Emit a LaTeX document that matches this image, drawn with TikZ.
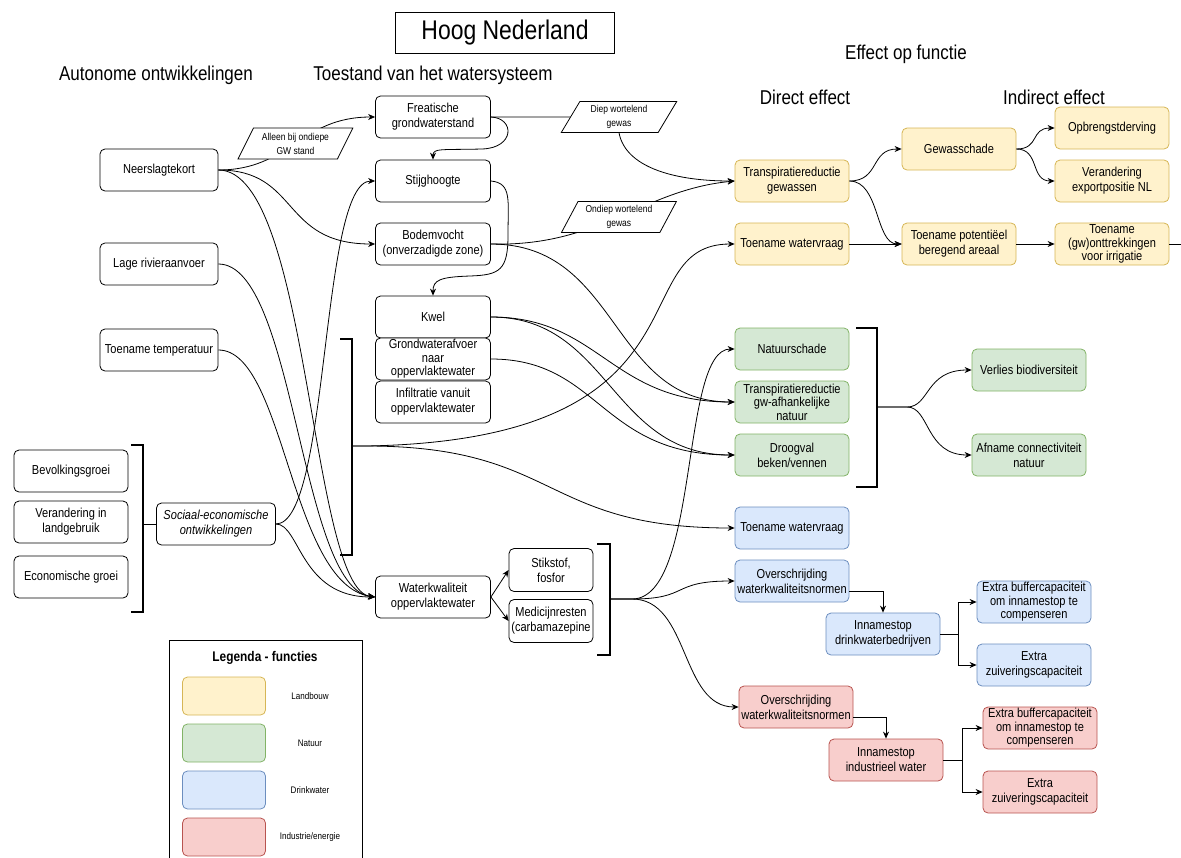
\documentclass[tikz,border=0pt]{standalone}
\usepackage{fontspec}
\setmainfont{Liberation Sans}[FakeStretch=0.85]
\usetikzlibrary{arrows.meta,shapes.geometric}
\definecolor{lbfill}{HTML}{FFF2CC}
\definecolor{lbdraw}{HTML}{D6B656}
\definecolor{ntfill}{HTML}{D5E8D4}
\definecolor{ntdraw}{HTML}{82B366}
\definecolor{dwfill}{HTML}{DAE8FC}
\definecolor{dwdraw}{HTML}{6C8EBF}
\definecolor{iefill}{HTML}{F8CECC}
\definecolor{iedraw}{HTML}{B85450}

\begin{document}
\begin{tikzpicture}[x=1pt,y=-1pt,
    box/.style={draw, fill=white, rounded corners=5pt, line width=0.8pt,
      minimum width=114pt, minimum height=42pt, align=center, inner sep=1pt,
      font=\fontsize{13}{15}\selectfont},
    three/.style={font=\fontsize{13}{13.5}\selectfont, inner sep=0pt},
    landbouw/.style={box, fill=lbfill, draw=lbdraw},
    natuur/.style={box, fill=ntfill, draw=ntdraw},
    drinkwater/.style={box, fill=dwfill, draw=dwdraw},
    industrie/.style={box, fill=iefill, draw=iedraw},
    pgram/.style={draw, fill=white, trapezium, trapezium left angle=60,
      trapezium right angle=120, trapezium stretches=true, minimum width=116pt,
      minimum height=31pt, align=center, inner sep=0pt,
      font=\fontsize{10}{14}\selectfont},
    header/.style={font=\fontsize{20}{24}\selectfont},
    arr/.style={line width=0.8pt, -{Stealth[length=7pt,width=6pt]}},
    bracket/.style={line width=1.8pt}]
  \useasboundingbox (0,0) rectangle (1181,857);
  \clip (0,0) rectangle (1181,857);

  \node[draw, line width=0.8pt, minimum width=219pt, minimum height=41pt,
    font=\fontsize{27}{30}\selectfont] (title) at (505,33) {Hoog Nederland};
  \node[header] (hAut) at (156,75) {Autonome ontwikkelingen};
  \node[header] (hToe) at (433,75) {Toestand van het watersysteem};
  \node[header] (hEff) at (906,54) {Effect op functie};
  \node[header] (hDir) at (805,97) {Direct effect};
  \node[header] (hInd) at (1054,97) {Indirect effect};

  \node[box, minimum width=118pt] (nsl) at (159,170) {Neerslagtekort};
  \node[box, minimum width=118pt] (lra) at (159,264) {Lage rivieraanvoer};
  \node[box, minimum width=118pt] (ttemp) at (159,350) {Toename temperatuur};
  \node[box] (bev) at (71,471) {Bevolkingsgroei};
  \node[box] (lgb) at (71,522) {Verandering in\\landgebruik};
  \node[box] (ecg) at (71,577) {Economische groei};
  \node[box, minimum width=119pt, font=\fontsize{13}{15}\selectfont\itshape] (soc) at (216,524) {Sociaal-economische\\ontwikkelingen};

  \node[box, minimum width=115pt] (frea) at (433,117) {Freatische\\grondwaterstand};
  \node[box, minimum width=115pt] (stijg) at (433,181) {Stijghoogte};
  \node[box, minimum width=115pt] (bodem) at (433,244) {Bodemvocht\\(onverzadigde zone)};
  \node[box, minimum width=115pt] (kwel) at (433,317) {Kwel};
  \node[box, three, minimum width=115pt] (gwaf) at (433,359) {Grondwaterafvoer\\naar\\oppervlaktewater};
  \node[box, minimum width=115pt] (infil) at (433,402) {Infiltratie vanuit\\oppervlaktewater};
  \node[box, minimum width=115pt] (wkw) at (433,597) {Waterkwaliteit\\oppervlaktewater};
  \node[box, minimum width=84pt, minimum height=43pt] (stik) at (551,570) {Stikstof,\\fosfor};
  \node[box, minimum width=84pt, minimum height=43pt] (medi) at (551,621) {Medicijnresten\\(carbamazepine};

  \node[landbouw] (trg) at (792,181) {Transpiratiereductie\\gewassen};
  \node[landbouw] (twvl) at (792,244) {Toename watervraag};
  \node[landbouw] (gws) at (959,149) {Gewasschade};
  \node[landbouw] (opb) at (1112,128) {Opbrengstderving};
  \node[landbouw] (vexp) at (1112,181) {Verandering\\exportpositie NL};
  \node[landbouw] (tpb) at (959,244) {Toename potentiëel\\beregend areaal};
  \node[landbouw, three] (tgw) at (1112,244) {Toename\\(gw)onttrekkingen\\voor irrigatie};

  \node[natuur] (nat) at (792,349) {Natuurschade};
  \node[natuur, three] (trn) at (792,402) {Transpiratiereductie\\gw-afhankelijke\\natuur};
  \node[natuur] (drg) at (792,455) {Droogval\\beken/vennen};
  \node[natuur] (vbio) at (1029,370) {Verlies biodiversiteit};
  \node[natuur] (acon) at (1029,455) {Afname connectiviteit\\natuur};

  \node[drinkwater] (twvd) at (792,528) {Toename watervraag};
  \node[drinkwater] (ovd) at (792,581) {Overschrijding\\waterkwaliteitsnormen};
  \node[drinkwater] (ind) at (883,634) {Innamestop\\drinkwaterbedrijven};
  \node[drinkwater, three] (ebd) at (1034,602) {Extra buffercapaciteit\\om innamestop te\\compenseren};
  \node[drinkwater] (ezd) at (1034,665) {Extra\\zuiveringscapaciteit};

  \node[industrie] (ovi) at (796,707) {Overschrijding\\waterkwaliteitsnormen};
  \node[industrie] (ini) at (886,760) {Innamestop\\industrieel water};
  \node[industrie, three] (ebi) at (1040,728) {Extra buffercapaciteit\\om innamestop te\\compenseren};
  \node[industrie] (ezi) at (1040,792) {Extra\\zuiveringscapaciteit};

  \draw[bracket] (131,445) -- (143,445) -- (143,612) -- (131,612);
  \draw[bracket] (340,339) -- (352,339) -- (352,555) -- (340,555);
  \draw[bracket] (597,544) -- (610,544) -- (610,655) -- (597,655);
  \draw[bracket] (856,328) -- (877,328) -- (877,487) -- (856,487);
  \coordinate (bsoc) at (143,524);
  \coordinate (bkw) at (352,446);
  \coordinate (bst) at (610,599);
  \coordinate (bnat) at (877,407);
  \coordinate (tgwend) at (1190,244);

  \draw[line width=0.8pt] (bsoc) -- (soc.west);
  \draw[arr] (nsl.east) .. controls (290,170) and (300,117) .. (frea.west)
    node[pgram, pos=0.5] (pAll) {Alleen bij ondiepe\\GW stand};
  \draw[arr] (nsl.east) .. controls (300,170) and (280,244) .. (bodem.west);
  \draw[arr] (nsl.east) .. controls (310,170) and (310,590) .. (wkw.west);
  \draw[arr] (lra.east) .. controls (295,264) and (300,588) .. (wkw.west);
  \draw[arr] (ttemp.east) .. controls (285,350) and (290,585) .. (wkw.west);
  \draw[arr] (soc.east) .. controls (330,524) and (320,181) .. (stijg.west);
  \draw[arr] (soc.east) .. controls (300,524) and (300,597) .. (wkw.west);

  \draw[arr] (frea.east) .. controls (515,118) and (515,148) .. (482,149)
    .. controls (442,150) and (433,148) .. (stijg.north);
  \draw[arr] (stijg.east) .. controls (512,183) and (508,200) .. (508,235)
    .. controls (508,270) and (500,275) .. (470,276)
    .. controls (440,277) and (433,280) .. (kwel.north);
  \draw[arr] (frea.east) -- (619,117) node[pgram] (pDiep) {Diep wortelend\\gewas}
    .. controls (612,160) and (660,181) .. (trg.west);
  \draw[arr] (bodem.east) .. controls (600,247) and (642,190) .. (trg.west)
    node[pgram, pos=0.5] (pOnd) {Ondiep wortelend\\gewas};
  \draw[arr] (bodem.east) .. controls (620,244) and (610,402) .. (trn.west);
  \draw[arr] (kwel.east) .. controls (600,317) and (610,402) .. (trn.west);
  \draw[arr] (kwel.east) .. controls (610,317) and (610,455) .. (drg.west);
  \draw[arr] (gwaf.east) .. controls (600,359) and (600,455) .. (drg.west);
  \draw[arr] (bkw) -- ++(14,0) .. controls (720,440) and (620,244) .. (twvl.west);
  \draw[arr] (bkw) -- ++(14,0) .. controls (560,446) and (540,528) .. (twvd.west);
  \draw[arr] (wkw.east) -- (stik.west);
  \draw[arr] (wkw.east) -- (medi.west);
  \draw[arr] (bst) -- ++(22,0) .. controls (700,599) and (680,349) .. (nat.west);
  \draw[arr] (bst) -- ++(22,0) .. controls (690,599) and (670,581) .. (ovd.west);
  \draw[arr] (bst) -- ++(22,0) .. controls (690,599) and (680,707) .. (ovi.west);

  \draw[arr] (trg.east) .. controls (880,181) and (870,149) .. (gws.west);
  \draw[arr] (trg.east) .. controls (880,181) and (875,244) .. (tpb.west);
  \draw[arr] (twvl.east) -- (tpb.west);
  \draw[arr] (gws.east) .. controls (1040,149) and (1030,128) .. (opb.west);
  \draw[arr] (gws.east) .. controls (1040,149) and (1030,181) .. (vexp.west);
  \draw[arr] (tpb.east) -- (tgw.west);
  \draw[line width=0.8pt] (tgw.east) -- (tgwend);

  \draw[arr] (bnat) -- ++(30,0) .. controls (930,407) and (925,370) .. (vbio.west);
  \draw[arr] (bnat) -- ++(30,0) .. controls (930,407) and (925,455) .. (acon.west);

  \draw[arr] ([yshift=-10pt]ovd.east) -| (ind.north);
  \draw[arr] (ind.east) -- ++(18,0) |- (ebd.west);
  \draw[arr] (ind.east) -- ++(18,0) |- (ezd.west);
  \draw[arr] ([yshift=-10pt]ovi.east) -| (ini.north);
  \draw[arr] (ini.east) -- ++(19,0) |- (ebi.west);
  \draw[arr] (ini.east) -- ++(19,0) |- (ezi.west);

  \draw[line width=0.8pt] (169,860) -- (169,640) -- (362,640) -- (362,860);
  \node[font=\bfseries\fontsize{14}{16}\selectfont] (legT) at (265,658) {Legenda - functies};
  \foreach \sty/\lab/\y in {landbouw/Landbouw/696, natuur/Natuur/743,
      drinkwater/Drinkwater/790, industrie/{Industrie/energie}/837}
    \node[\sty, minimum width=83pt, minimum height=38pt] (sw\y) at (224,\y) {}
      node[font=\fontsize{9.5}{11}\selectfont] (lb\y) at (310,\y) {\lab};
\end{tikzpicture}
\end{document}
